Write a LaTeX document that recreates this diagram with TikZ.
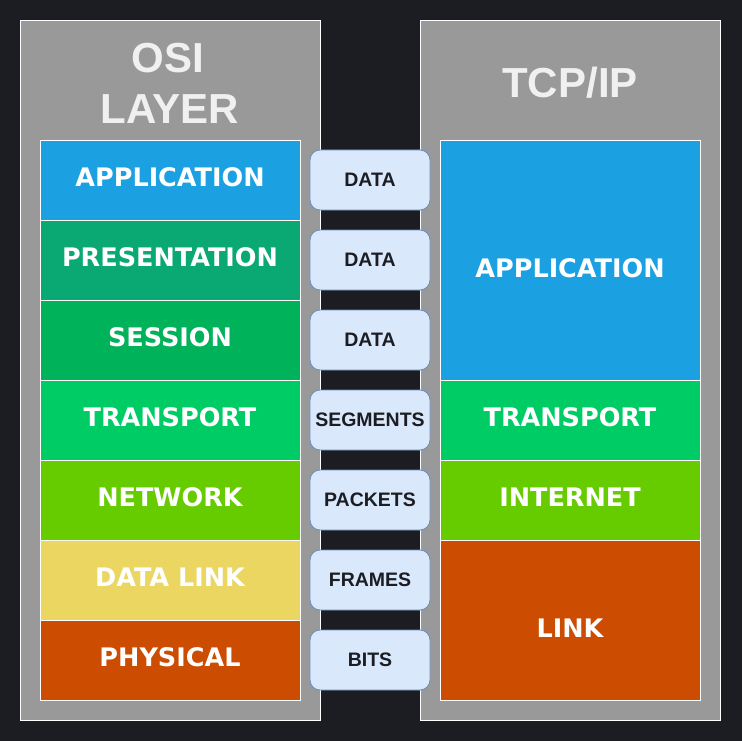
\documentclass[tikz,border=0pt]{standalone}
\usepackage{fontspec}
\setmainfont{Liberation Sans}
\newfontfamily\layerfont{DejaVu Sans}
\definecolor{bgdark}{HTML}{1B1D22}
\definecolor{panelgrey}{HTML}{999999}
\definecolor{titlegrey}{HTML}{F0F0F0}
\definecolor{cApp}{HTML}{1BA1E2}
\definecolor{cPres}{HTML}{0AA974}
\definecolor{cSess}{HTML}{00B259}
\definecolor{cTrans}{HTML}{00CC66}
\definecolor{cNet}{HTML}{66CC00}
\definecolor{cLink}{HTML}{EAD660}
\definecolor{cPhys}{HTML}{CC4C02}
\definecolor{pillfill}{HTML}{DAE8FC}
\definecolor{pilldraw}{HTML}{6C8EBF}
\definecolor{pilltext}{HTML}{1B1D22}
\tikzset{
  panel/.style={draw=white, line width=0.8pt, fill=panelgrey, anchor=north west, inner sep=0pt},
  layerbox/.style={draw=white, line width=0.8pt, anchor=north west, inner sep=0pt, minimum width=260pt},
  layertext/.style={text=white, font=\layerfont\bfseries\fontsize{25.5}{28}\selectfont, inner sep=0pt},
  pill/.style={draw=pilldraw, line width=0.8pt, fill=pillfill, rounded corners=10pt, minimum width=120pt, minimum height=60pt, inner sep=0pt,
    text=pilltext, font=\bfseries\fontsize{19.5}{22}\selectfont},
  titletext/.style={text=titlegrey, font=\bfseries\fontsize{42}{51}\selectfont, align=center, inner sep=0pt}
}
\begin{document}
\begin{tikzpicture}[x=1pt,y=-1pt]
\useasboundingbox (0,0) rectangle (742,741);
\fill[bgdark] (0,0) rectangle (742,741);
% panels
\node[panel, minimum width=300pt, minimum height=700pt] (osipanel) at (20,20) {};
\node[panel, minimum width=300pt, minimum height=700pt] (tcppanel) at (420,20) {};
% titles
\node[titletext, anchor=base] (osit1) at (168,73) {OSI};
\node[titletext, anchor=base] (osit2) at (170,124) {LAYER};
\node[titletext, anchor=base] (tcpt) at (570,98) {TCP/IP};
% OSI layers
\node[layerbox, fill=cApp, minimum height=80pt] (o1) at (40,140) {};
\node[layerbox, fill=cPres, minimum height=80pt] (o2) at (40,220) {};
\node[layerbox, fill=cSess, minimum height=80pt] (o3) at (40,300) {};
\node[layerbox, fill=cTrans, minimum height=80pt] (o4) at (40,380) {};
\node[layerbox, fill=cNet, minimum height=80pt] (o5) at (40,460) {};
\node[layerbox, fill=cLink, minimum height=80pt] (o6) at (40,540) {};
\node[layerbox, fill=cPhys, minimum height=80pt] (o7) at (40,620) {};
\node[layertext] (o1t) at (170,177) {APPLICATION};
\node[layertext] (o2t) at (170,257) {PRESENTATION};
\node[layertext] (o3t) at (170,337) {SESSION};
\node[layertext] (o4t) at (170,417) {TRANSPORT};
\node[layertext] (o5t) at (170,497) {NETWORK};
\node[layertext] (o6t) at (170,577) {DATA LINK};
\node[layertext] (o7t) at (170,657) {PHYSICAL};
% TCP/IP layers
\node[layerbox, fill=cApp, minimum height=240pt] (t1) at (440,140) {};
\node[layerbox, fill=cTrans, minimum height=80pt] (t2) at (440,380) {};
\node[layerbox, fill=cNet, minimum height=80pt] (t3) at (440,460) {};
\node[layerbox, fill=cPhys, minimum height=160pt] (t4) at (440,540) {};
\node[layertext] (t1t) at (570,268) {APPLICATION};
\node[layertext] (t2t) at (570,417) {TRANSPORT};
\node[layertext] (t3t) at (570,497) {INTERNET};
\node[layertext] (t4t) at (570,628) {LINK};
% PDUs
\node[pill] (p1) at (370,180) {DATA};
\node[pill] (p2) at (370,260) {DATA};
\node[pill] (p3) at (370,340) {DATA};
\node[pill] (p4) at (370,420) {SEGMENTS};
\node[pill] (p5) at (370,500) {PACKETS};
\node[pill] (p6) at (370,580) {FRAMES};
\node[pill] (p7) at (370,660) {BITS};
\end{tikzpicture}
\end{document}
